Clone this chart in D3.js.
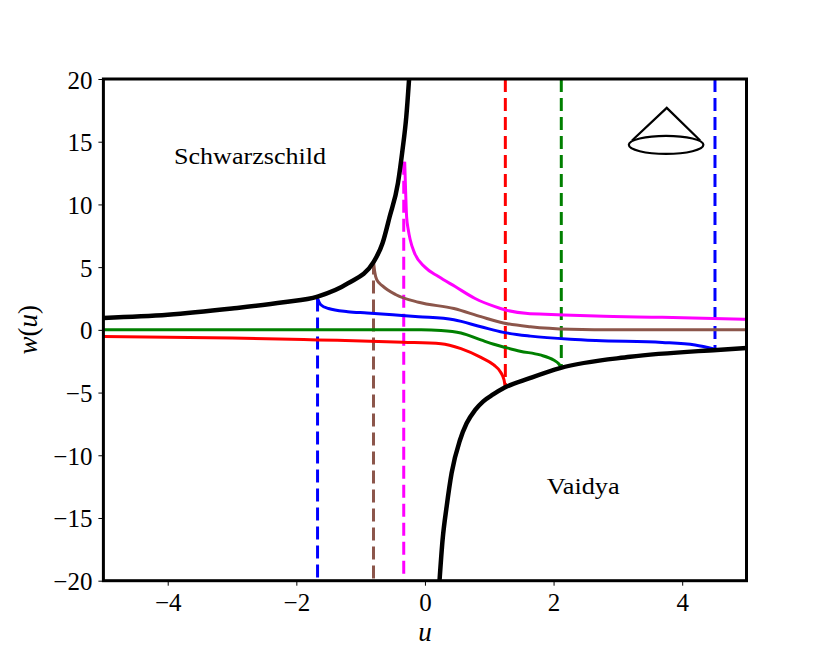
<!DOCTYPE html>
<html lang="en">
<head>
    <meta charset="UTF-8">
    <title>w(u)</title>
    <script src="https://d3js.org/d3.v7.min.js"></script>
    <style>
        body { margin: 0; padding: 0; background: #fff; }
        .tick text { font-family: 'Liberation Serif', 'DejaVu Serif', serif; font-size: 25px; fill: #000; }
        .tick line { stroke: #000; stroke-width: 1; }
        .label { font-family: 'Liberation Serif', 'DejaVu Serif', serif; }
    </style>
</head>
<body>
<svg id="chart"></svg>
<script>
    // 轴刻度
    const xTicks = [-4, -2, 0, 2, 4];
    const yTicks = [-20, -15, -10, -5, 0, 5, 10, 15, 20];

    // 黑色边界曲线 [u, w]
    const schwarzschildCurve = [
        [-5, 0.95], [-4, 1.2], [-3, 1.7], [-2.2, 2.2], [-1.67, 2.65], [-1.2, 3.7],
        [-0.8, 5.4], [-0.66, 6.9], [-0.55, 9.0], [-0.42, 11.7], [-0.35, 14.3],
        [-0.29, 17.0], [-0.24, 20.5]
    ];
    const vaidyaCurve = [
        [0.22, -20.5], [0.275, -16.7], [0.337, -14.1], [0.415, -11.4], [0.544, -8.8],
        [0.648, -7.45], [0.778, -6.4], [0.907, -5.7], [1.06, -5.15], [1.24, -4.6],
        [1.63, -3.85], [2.1, -3.05], [3.19, -2.15], [4.54, -1.6], [5, -1.45]
    ];

    // 彩色实线 [u, w]
    const blueCurve = [
        [-1.67, 2.5], [-1.62, 2.0], [-1.5, 1.7], [-1.2, 1.45], [-0.9, 1.35], [-0.5, 1.2],
        [-0.1, 1.05], [0.45, 0.8], [0.87, 0.25], [1.22, -0.2], [1.64, -0.5],
        [2.26, -0.75], [2.66, -0.85], [3.69, -1.0], [4.2, -1.2], [4.51, -1.55]
    ];
    const brownCurve = [
        [-0.8, 5.45], [-0.78, 4.6], [-0.75, 4.0], [-0.66, 3.5], [-0.45, 2.8], [-0.1, 2.2],
        [0.45, 1.7], [0.87, 1.05], [1.22, 0.55], [1.64, 0.25], [2.26, 0.05], [3, 0], [5, 0]
    ];
    const magentaCurve = [
        [-0.315, 13.4], [-0.3, 11.0], [-0.285, 9.0], [-0.26, 8.0], [-0.23, 7.2], [-0.16, 6.1],
        [0, 5.0], [0.21, 4.25], [0.47, 3.45], [0.78, 2.5], [1.09, 1.85], [1.24, 1.6],
        [1.6, 1.3], [1.87, 1.25], [2.66, 1.1], [3.69, 1.0], [5, 0.85]
    ];
    const greenCurve = [
        [-5, 0], [-0.06, 0], [0.25, -0.05], [0.56, -0.25], [0.87, -0.8], [1.07, -1.15],
        [1.25, -1.4], [1.48, -1.7], [1.79, -2.0], [2.0, -2.4], [2.08, -2.7], [2.12, -3.0]
    ];
    const redCurve = [
        [-5, -0.53], [-3, -0.65], [-1.67, -0.8], [-0.34, -0.98], [0.25, -1.1], [0.56, -1.5],
        [0.87, -2.2], [1.07, -2.8], [1.18, -3.4], [1.23, -4.0], [1.25, -4.55]
    ];

    // 竖直虚线: u, 起点 w, 终点 w
    const dashedLines = [
        { u: -1.67, w0: 2.5, w1: -20, color: "#0000ff" },
        { u: -0.8, w0: 5.45, w1: -20, color: "#8c564b" },
        { u: -0.33, w0: 13.4, w1: -20, color: "#ff00ff" },
        { u: 1.25, w0: 20, w1: -4.55, color: "#ff0000" },
        { u: 2.12, w0: 20, w1: -3.0, color: "#008000" },
        { u: 4.51, w0: 20, w1: -1.55, color: "#0000ff" }
    ];

    const margin = { top: 79, right: 83.5, bottom: 83.3, left: 103.4 };
    const W = 830, H = 664;
    const width = W - margin.left - margin.right;
    const height = H - margin.top - margin.bottom;

    const svg = d3.select("#chart").attr("width", W).attr("height", H);
    const g = svg.append("g").attr("transform", `translate(${margin.left},${margin.top})`);

    const x = d3.scaleLinear().domain([-5, 5]).range([0, width]);
    const y = d3.scaleLinear().domain([-20, 20]).range([height, 0]);

    g.append("clipPath").attr("id", "clip")
        .append("rect").attr("width", width).attr("height", height);

    const plot = g.append("g").attr("clip-path", "url(#clip)");

    const line = d3.line()
        .x(d => x(d[0]))
        .y(d => y(d[1]))
        .curve(d3.curveMonotoneX);

    // 虚线
    plot.selectAll(".vdash")
        .data(dashedLines)
        .join("line")
        .attr("x1", d => x(d.u)).attr("x2", d => x(d.u))
        .attr("y1", d => y(d.w0)).attr("y2", d => y(d.w1))
        .attr("stroke", d => d.color)
        .attr("stroke-width", 3)
        .attr("stroke-dasharray", "13,6");

    // 彩色曲线
    const colored = [
        { data: redCurve, color: "#ff0000" },
        { data: greenCurve, color: "#008000" },
        { data: blueCurve, color: "#0000ff" },
        { data: brownCurve, color: "#8c564b" },
        { data: magentaCurve, color: "#ff00ff" }
    ];
    plot.selectAll(".curve")
        .data(colored)
        .join("path")
        .attr("fill", "none")
        .attr("stroke", d => d.color)
        .attr("stroke-width", 3)
        .attr("d", d => line(d.data));

    // 黑色边界
    [schwarzschildCurve, vaidyaCurve].forEach(c => {
        plot.append("path")
            .attr("fill", "none")
            .attr("stroke", "#000")
            .attr("stroke-width", 4.5)
            .attr("d", line(c));
    });

    // 坐标轴
    const fmt = d => (d < 0 ? "\u2212" + Math.abs(d) : d);
    g.append("g")
        .attr("transform", `translate(0,${height})`)
        .call(d3.axisBottom(x).tickValues(xTicks).tickSize(5).tickPadding(8).tickFormat(fmt))
        .call(a => a.select(".domain").remove());
    g.append("g")
        .call(d3.axisLeft(y).tickValues(yTicks).tickSize(5).tickPadding(6).tickFormat(fmt))
        .call(a => a.selectAll("text").attr("dy", "0.36em"))
        .call(a => a.select(".domain").remove());

    g.append("rect")
        .attr("width", width).attr("height", height)
        .attr("fill", "none").attr("stroke", "#000").attr("stroke-width", 3);

    // 文字
    g.append("text").attr("class", "label")
        .attr("x", x(-2.72)).attr("y", y(13.2))
        .attr("text-anchor", "middle").attr("font-size", 24)
        .attr("textLength", 152).attr("lengthAdjust", "spacingAndGlyphs")
        .text("Schwarzschild");
    g.append("text").attr("class", "label")
        .attr("x", x(2.46)).attr("y", y(-13.1))
        .attr("text-anchor", "middle").attr("font-size", 24)
        .attr("textLength", 73).attr("lengthAdjust", "spacingAndGlyphs")
        .text("Vaidya");

    svg.append("text").attr("class", "label")
        .attr("x", margin.left + x(0)).attr("y", 641)
        .attr("text-anchor", "middle").attr("font-size", 27)
        .attr("font-style", "italic").text("u");

    const yl = svg.append("text").attr("class", "label")
        .attr("transform", `translate(37,${margin.top + y(0)}) rotate(-90)`)
        .attr("text-anchor", "middle").attr("font-size", 27);
    yl.append("tspan").attr("font-style", "italic").text("w");
    yl.append("tspan").text("(");
    yl.append("tspan").attr("font-style", "italic").text("u");
    yl.append("tspan").text(")");

    // 锥形图标
    const cone = g.append("g").attr("fill", "none").attr("stroke", "#000").attr("stroke-width", 2.2);
    cone.append("path")
        .attr("d", `M${x(3.22)},${y(15.1)} L${x(3.76)},${y(17.7)} L${x(4.28)},${y(15.1)}`);
    cone.append("ellipse")
        .attr("cx", x(3.75)).attr("cy", y(14.75))
        .attr("rx", x(0.58) - x(0)).attr("ry", y(0) - y(0.72));
</script>
</body>
</html>
